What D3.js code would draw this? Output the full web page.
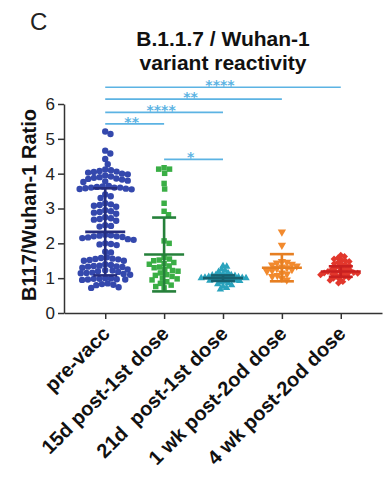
<!DOCTYPE html>
<html>
<head>
<meta charset="utf-8">
<script src="https://cdn.jsdelivr.net/npm/d3@7"></script>
<style>
  body { margin: 0; background: #fff; }
  svg text { font-family: "Liberation Sans", Arial, sans-serif; }
</style>
</head>
<body>
<div id="chart"></div>
<script>
// groups on the x axis
var groups = ["pre-vacc", "15d post-1st dose", "21d  post-1st dose", "1 wk post-2od dose", "4 wk post-2od dose"];

// individual ratios, one array per group
var preVacc = [5.21, 5.14, 4.66, 4.58, 4.42, 4.27,
  4.12, 4.08, 4.05, 4.03, 4.0, 3.98, 4.1, 4.06,
  3.95, 3.92, 3.9, 3.88, 3.85, 3.83, 3.8, 3.78, 3.76, 3.86,
  3.65, 3.62, 3.6, 3.6, 3.58, 3.57, 3.55, 3.63, 3.6, 3.56,
  3.35, 3.3, 3.4,
  3.15, 3.12, 3.1, 3.08, 3.05,
  2.95, 2.9, 2.88, 2.85, 2.92,
  2.75, 2.72, 2.7, 2.68, 2.65,
  2.52, 2.48, 2.5,
  2.25, 2.23, 2.2, 2.18, 2.15, 2.22, 2.2, 2.12, 2.17, 2.1,
  2.0, 1.98, 1.95, 1.97,
  1.76, 1.74,
  1.6, 1.58, 1.55, 1.52, 1.5, 1.56, 1.54, 1.5,
  1.4, 1.38, 1.36, 1.34, 1.32, 1.3, 1.35, 1.33,
  1.25, 1.23, 1.2, 1.18, 1.16, 1.14, 1.12, 1.1, 1.22, 1.15,
  1.0, 0.99, 0.98, 0.97, 0.96, 0.95, 0.98, 0.96,
  0.85, 0.83, 0.81, 0.8,
  0.72, 0.74];
var post1st15d = [4.17, 4.13, 4.13, 4.01, 3.72, 3.56, 3.15, 2.92, 2.82, 2.07, 2.0,
  1.6, 1.55, 1.52, 1.5, 1.45, 1.42, 1.4, 1.35, 1.32, 1.3, 1.25, 1.22, 1.2,
  1.15, 1.1, 1.08, 1.05, 1.0, 0.98, 0.95, 0.9, 0.85, 0.8, 0.76, 0.72];
var post1st21d = [1.35, 1.33, 1.25, 1.22, 1.18, 1.15, 1.12, 1.1, 1.09, 1.08, 1.07, 1.06,
  1.05, 1.04, 1.03, 1.02, 1.01, 1.0, 1.0, 0.99, 0.98, 0.97, 0.96, 0.95, 0.94,
  0.93, 0.92, 0.9, 0.88, 0.86, 0.83, 0.8, 0.76, 0.72, 0.68];
var post2nd1wk = [2.33, 1.95, 1.48, 1.46, 1.44, 1.4, 1.38, 1.35, 1.32, 1.3, 1.28,
  1.25, 1.22, 1.2, 1.15, 1.12, 1.08, 1.05, 1.0, 0.95];
var post2nd4wk = [1.66, 1.62, 1.58, 1.55, 1.52, 1.5, 1.48, 1.45, 1.42, 1.4, 1.38,
  1.35, 1.32, 1.3, 1.28, 1.26, 1.24, 1.22, 1.2, 1.19, 1.18, 1.17, 1.16, 1.15,
  1.14, 1.13, 1.12, 1.1, 1.08, 1.06, 1.04, 1.02, 1.0, 0.97, 0.94, 0.9, 0.86];

// mean and SD bars as drawn
var means = [2.33, 1.68, 1.0, 1.30, 1.19];
var sds = [1.25, 1.06, 0.08, 0.39, 0.15];

// significance brackets: from group, to group, label, level (ratio units)
var sigFrom = [0, 0, 0, 0, 1];
var sigTo = [4, 3, 2, 1, 2];
var sigLabels = ["****", "**", "****", "**", "*"];
var sigLevels = [6.48, 6.14, 5.76, 5.43, 4.41];

var yTicks = [0, 1, 2, 3, 4, 5, 6];

var width = 387, height = 498;
var pointColors = ["#3448ad", "#3aae45", "#2aa3bd", "#f28a2e", "#e2372c"];
var barColors = ["#252d7e", "#25803a", "#17606f", "#e67f22", "#c92020"];
var sigColor = "#5cb3e3";

var allValues = [preVacc, post1st15d, post1st21d, post2nd1wk, post2nd4wk];

var svg = d3.select("#chart")
    .append("svg")
    .attr("width", width)
    .attr("height", height);

var y = d3.scaleLinear().domain([0, 6]).range([313, 104]);
var x = d3.scalePoint().domain(groups).range([64, 382]).padding(0.7);

// title + panel letter
svg.append("text").attr("x", 30).attr("y", 30)
    .style("font-size", "24px").attr("fill", "#222").text("C");
svg.append("text").attr("x", 223).attr("y", 46)
    .attr("text-anchor", "middle")
    .style("font-size", "21px").style("font-weight", "bold").attr("fill", "#111")
    .text("B.1.1.7 / Wuhan-1");
svg.append("text").attr("x", 223).attr("y", 70)
    .attr("text-anchor", "middle")
    .style("font-size", "21px").style("font-weight", "bold").attr("fill", "#111")
    .text("variant reactivity");

// y axis
var yAxis = svg.append("g")
    .attr("transform", "translate(64,0)")
    .call(d3.axisLeft(y).tickValues(yTicks).tickFormat(d3.format("d"))
        .tickSize(6).tickSizeOuter(0).tickPadding(3));
yAxis.selectAll("text").style("font-size", "17px").attr("fill", "#222");
yAxis.selectAll("line, path").attr("stroke", "#333").attr("stroke-width", 1.5);

svg.append("text")
    .attr("transform", "translate(36,205) rotate(-90)")
    .attr("text-anchor", "middle")
    .style("font-size", "20px").style("font-weight", "bold").attr("fill", "#111")
    .text("B117/Wuhan-1 Ratio");

// x axis
var xAxis = svg.append("g")
    .attr("transform", "translate(0,313)")
    .call(d3.axisBottom(x).tickSize(6).tickSizeOuter(0));
xAxis.selectAll("line, path").attr("stroke", "#333").attr("stroke-width", 1.5);
xAxis.selectAll("text").remove();

svg.selectAll(".xlab")
    .data(groups)
    .enter().append("text")
    .attr("class", "xlab")
    .attr("transform", function (d) {
        return "translate(" + (x(d) + 6) + ",335) rotate(-45)";
    })
    .attr("text-anchor", "end")
    .style("font-size", "20px").style("font-weight", "bold").attr("fill", "#111")
    .style("white-space", "pre")
    .text(function (d) { return d; });

// simple beeswarm: put each point as near the centre as it can go
function swarm(vals, diam) {
    var placed = [];
    var sorted = vals.slice().sort(function (a, b) { return b - a; });
    sorted.forEach(function (v) {
        var py = y(v);
        var cands = [0];
        placed.forEach(function (p) {
            var dy = Math.abs(p.y - py);
            if (dy < diam) {
                var dx = Math.sqrt(diam * diam - dy * dy);
                cands.push(p.dx + dx, p.dx - dx);
            }
        });
        cands.sort(function (a, b) { return Math.abs(a) - Math.abs(b); });
        var best = cands.find(function (c) {
            return placed.every(function (p) {
                var ddx = p.dx - c, ddy = p.y - py;
                return ddx * ddx + ddy * ddy >= diam * diam - 0.01;
            });
        });
        placed.push({ v: v, y: py, dx: best });
    });
    return placed;
}

// diam = spacing used by the swarm (points overlap a bit, as in Prism)
var symbols = [
    { type: d3.symbolCircle, size: 32, rot: 0, diam: 5.8 },
    { type: d3.symbolSquare, size: 30, rot: 0, diam: 5.6 },
    { type: d3.symbolTriangle, size: 24, rot: 0, diam: 3.8 },
    { type: d3.symbolTriangle, size: 30, rot: 180, diam: 5.2 },
    { type: d3.symbolSquare, size: 24, rot: 45, diam: 4.0 }
];

groups.forEach(function (g, i) {
    var sym = symbols[i];
    var pts = swarm(allValues[i], sym.diam);
    var cx = x(g);
    svg.append("g").selectAll("path")
        .data(pts)
        .enter().append("path")
        .attr("d", d3.symbol().type(sym.type).size(sym.size))
        .attr("transform", function (d) {
            return "translate(" + (cx + d.dx) + "," + d.y + ") rotate(" + sym.rot + ")";
        })
        .attr("fill", pointColors[i]);

    // mean +/- SD
    var eb = svg.append("g").attr("stroke", barColors[i]).attr("stroke-width", 2.6);
    var m = means[i], s = sds[i];
    eb.append("line").attr("x1", cx).attr("x2", cx).attr("y1", y(m + s)).attr("y2", y(m - s));
    eb.append("line").attr("x1", cx - 20).attr("x2", cx + 20).attr("y1", y(m)).attr("y2", y(m));
    eb.append("line").attr("x1", cx - 12).attr("x2", cx + 12).attr("y1", y(m + s)).attr("y2", y(m + s));
    eb.append("line").attr("x1", cx - 12).attr("x2", cx + 12).attr("y1", y(m - s)).attr("y2", y(m - s));
});

// significance brackets
var sig = svg.append("g");
sigLabels.forEach(function (lab, k) {
    var x1 = x(groups[sigFrom[k]]), x2 = x(groups[sigTo[k]]);
    var ly = y(sigLevels[k]);
    sig.append("line")
        .attr("x1", x1).attr("x2", x2).attr("y1", ly).attr("y2", ly)
        .attr("stroke", sigColor).attr("stroke-width", 1.6);
    sig.append("text")
        .attr("x", (x1 + x2) / 2 - 3).attr("y", ly + 3)
        .attr("text-anchor", "middle")
        .style("font-family", "DejaVu Sans")
        .style("font-size", "14px").style("font-weight", "bold")
        .attr("fill", sigColor)
        .text(lab);
});
</script>
</body>
</html>
